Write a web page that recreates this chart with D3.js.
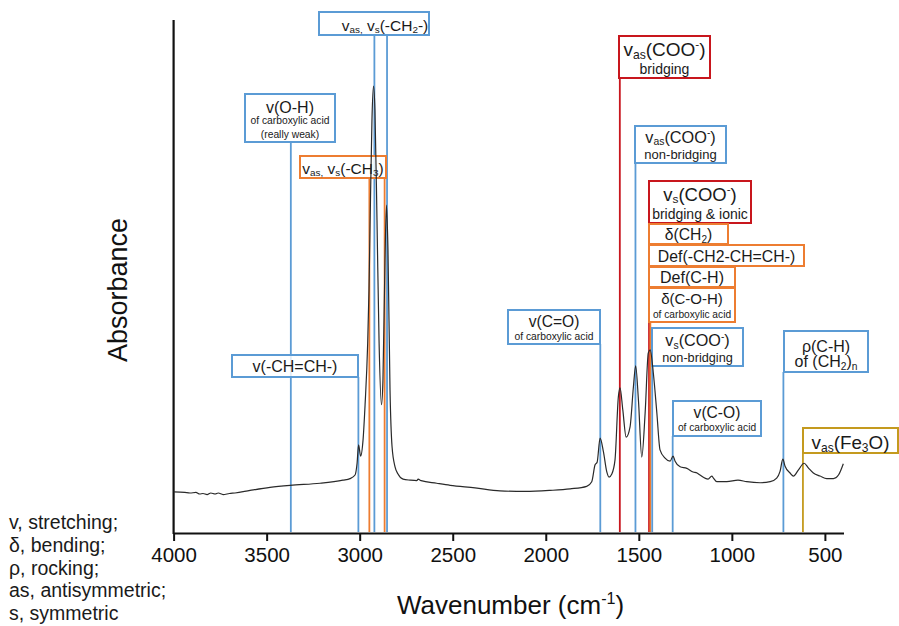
<!DOCTYPE html>
<html lang="en">
<head>
<meta charset="utf-8">
<title>FTIR spectrum with band assignments</title>
<style>
  html,body{margin:0;background:#fff;}
  svg{display:block;font-family:"Liberation Sans",Arial,Helvetica,sans-serif;}
</style>
</head>
<body>
<div id="chart"></div>
<script src="https://cdn.jsdelivr.net/npm/d3@7"></script>
<script>
// spectrum (wavenumber in cm-1, absorbance in arbitrary units)
const wavenumbers = [4000, 3940, 3912, 3880, 3860, 3842, 3820, 3800, 3777, 3760, 3734, 3700, 3670, 3589, 3482, 3374, 3213, 3090, 3052, 3025, 3014, 3006, 2995, 2982, 2971, 2957, 2950, 2942, 2934, 2926, 2918, 2907, 2896, 2883, 2875, 2864, 2856, 2848, 2837, 2826, 2810, 2794, 2767, 2729, 2693, 2686, 2670, 2586, 2514, 2380, 2246, 2111, 1977, 1869, 1780, 1753, 1735, 1724, 1708, 1690, 1672, 1660, 1645, 1628, 1610, 1601, 1586, 1568, 1547, 1529, 1517, 1502, 1484, 1466, 1449, 1439, 1422, 1403, 1386, 1359, 1332, 1316, 1305, 1278, 1242, 1208, 1187, 1171, 1128, 1108, 1099, 1081, 1027, 967, 920, 848, 794, 759, 741, 726, 714, 687, 669, 642, 612, 589, 562, 526, 490, 454, 427, 401];
const absorbance = [0.080, 0.079, 0.078, 0.079, 0.076, 0.077, 0.075, 0.078, 0.076, 0.078, 0.075, 0.077, 0.078, 0.083, 0.089, 0.093, 0.097, 0.103, 0.106, 0.113, 0.136, 0.172, 0.150, 0.181, 0.250, 0.370, 0.474, 0.649, 0.805, 0.871, 0.825, 0.610, 0.376, 0.250, 0.298, 0.532, 0.639, 0.552, 0.279, 0.168, 0.129, 0.115, 0.105, 0.103, 0.102, 0.105, 0.102, 0.097, 0.093, 0.088, 0.082, 0.081, 0.083, 0.086, 0.091, 0.100, 0.133, 0.138, 0.185, 0.158, 0.119, 0.109, 0.115, 0.142, 0.265, 0.283, 0.240, 0.187, 0.207, 0.285, 0.326, 0.259, 0.148, 0.234, 0.351, 0.357, 0.312, 0.234, 0.162, 0.146, 0.140, 0.150, 0.140, 0.129, 0.126, 0.119, 0.117, 0.113, 0.105, 0.111, 0.107, 0.100, 0.100, 0.103, 0.100, 0.098, 0.100, 0.107, 0.120, 0.144, 0.130, 0.117, 0.111, 0.123, 0.136, 0.127, 0.117, 0.111, 0.106, 0.106, 0.113, 0.135];

const xTicks = [4000, 3500, 3000, 2500, 2000, 1500, 1000, 500];

// band assignments: label lines (_{} subscript, ^{} superscript), band positions, colour group
const bandLabels = [
  ["v_{as,} v_{s}(-CH_{2}-)"],
  ["v(O-H)", "of carboxylic acid", "(really weak)"],
  ["v_{as,} v_{s}(-CH_{3})"],
  ["v(-CH=CH-)"],
  ["v(C=O)", "of carboxylic acid"],
  ["v_{as}(COO^{-})", "bridging"],
  ["v_{as}(COO^{-})", "non-bridging"],
  ["v_{s}(COO^{-})", "bridging & ionic"],
  ["δ(CH_{2})"],
  ["Def(-CH2-CH=CH-)"],
  ["Def(C-H)"],
  ["δ(C-O-H)", "of carboxylic acid"],
  ["v_{s}(COO^{-})", "non-bridging"],
  ["v(C-O)", "of carboxylic acid"],
  ["ρ(C-H)", "of (CH_{2})_{n}"],
  ["v_{as}(Fe_{3}O)"]
];
const bandPositions = [[2921, 2853], [3370], [2948, 2866], [3007], [1707], [1602], [1518], [1445], [], [], [], [1438], [1428], [1318], [723], [618]];
const bandGroups = ["blue", "blue", "orange", "blue", "blue", "red", "blue", "red", "orange", "orange", "orange", "orange", "blue", "blue", "blue", "gold"];

const legendLines = ["v, stretching;", "δ, bending;", "ρ, rocking;", "as, antisymmetric;", "s, symmetric"];

// ---- layout (pixels) ----
const W = 899, H = 626;
const margin = {left: 173.6, right: 843.5, top: 20, bottom: 533};
const groupColor = {blue: "#5b9bd5", orange: "#ed7d31", red: "#c8161d", gold: "#c49a1e"};
// label boxes: [x0, y0, x1, y1], font sizes per line, baselines from box top, optional text centre
const boxLayout = [
  {box: [319, 12, 429, 35], size: [15.5], base: [18.5], cx: 385},
  {box: [245, 94, 335, 142], size: [16, 10.3, 10.3], base: [18.5, 30, 43.5]},
  {box: [300, 156, 386, 178], size: [15.5], base: [17.5]},
  {box: [232, 355, 358, 377], size: [16], base: [17]},
  {box: [508, 310, 600, 344], size: [15.6, 10.3], base: [16.8, 30]},
  {box: [619, 36, 710, 78], size: [19, 14], base: [20, 37.5]},
  {box: [635, 126, 726, 163], size: [16.3, 13], base: [16.8, 33]},
  {box: [649, 181, 751, 223], size: [18.5, 14], base: [19.5, 38.3]},
  {box: [649, 224, 728, 244], size: [15.7], base: [16]},
  {box: [649, 245, 804, 266], size: [15.8], base: [17.3]},
  {box: [649, 267, 735, 287], size: [16], base: [16.3]},
  {box: [649, 288, 735, 322], size: [15, 10.2], base: [15.5, 29.5]},
  {box: [652, 328, 743, 366], size: [16.2, 12.7], base: [18, 34]},
  {box: [673, 401, 761, 436], size: [15.6, 10.2], base: [17.3, 30]},
  {box: [784, 331, 868, 372], size: [16, 16], base: [20.5, 36]},
  {box: [803, 428, 898, 453], size: [18.8], base: [20.5]}
];

const svg = d3.select("#chart").append("svg")
    .attr("width", W)
    .attr("height", H)
    .attr("viewBox", [0, 0, W, H]);

const x = d3.scaleLinear().domain([4000, 400]).range([margin.left, margin.right]);
const y = d3.scaleLinear().domain([0, 1]).range([margin.bottom, margin.top]);

// x axis
const xAxis = d3.axisBottom(x)
    .tickValues(xTicks)
    .tickFormat(d3.format("d"))
    .tickSize(8).tickPadding(6).tickSizeOuter(0);
const gx = svg.append("g")
    .attr("transform", `translate(0,${margin.bottom})`)
    .call(xAxis);
gx.select(".domain").attr("stroke", "#111").attr("stroke-width", 2.2);
gx.selectAll(".tick line").attr("stroke", "#111").attr("stroke-width", 2);
gx.selectAll(".tick text")
    .attr("font-size", 20.5)
    .attr("fill", "#111")
    .attr("font-family", "'Liberation Sans', Arial, sans-serif");

// left spine
svg.append("line")
    .attr("x1", margin.left).attr("x2", margin.left)
    .attr("y1", margin.top).attr("y2", margin.bottom + 1)
    .attr("stroke", "#111").attr("stroke-width", 2.2);

// helper for sub/superscript markup
function richText(sel, str, size) {
  const parts = str.split(/(_\{[^}]*\}|\^\{[^}]*\})/).filter(s => s.length);
  let shift = 0;
  parts.forEach(p => {
    let t = p, s = size, target = 0;
    if (p.startsWith("_{")) { t = p.slice(2, -1); s = size * 0.64; target = size * 0.16; }
    else if (p.startsWith("^{")) { t = p.slice(2, -1); s = size * 0.62; target = -size * 0.4; }
    sel.append("tspan")
        .attr("font-size", s)
        .attr("dy", target - shift)
        .text(t);
    shift = target;
  });
}

// vertical band lines (from the bottom of their box down to the axis)
const lineG = svg.append("g");
bandPositions.forEach((pos, i) => {
  const b = boxLayout[i].box;
  pos.forEach(wn => {
    lineG.append("line")
        .attr("x1", x(wn)).attr("x2", x(wn))
        .attr("y1", b[3]).attr("y2", margin.bottom - 1)
        .attr("stroke", groupColor[bandGroups[i]])
        .attr("stroke-width", 1.8);
  });
});

// label boxes
const boxG = svg.append("g");
bandLabels.forEach((lines, i) => {
  const L = boxLayout[i];
  const [x0, y0, x1, y1] = L.box;
  boxG.append("rect")
      .attr("x", x0).attr("y", y0)
      .attr("width", x1 - x0).attr("height", y1 - y0)
      .attr("fill", "#fff").attr("fill-opacity", 0.82)
      .attr("stroke", groupColor[bandGroups[i]])
      .attr("stroke-width", 2);
  const cx = L.cx != null ? L.cx : (x0 + x1) / 2;
  lines.forEach((ln, j) => {
    const t = boxG.append("text")
        .attr("x", cx)
        .attr("y", y0 + L.base[j])
        .attr("text-anchor", "middle")
        .attr("fill", "#1a1a1a")
        .attr("font-size", L.size[j]);
    richText(t, ln, L.size[j]);
  });
});

// spectrum
const spectrum = wavenumbers.map((w, i) => [w, absorbance[i]]);
svg.append("path")
    .datum(spectrum)
    .attr("fill", "none")
    .attr("stroke", "#2a2a2a")
    .attr("stroke-width", 1.2)
    .attr("stroke-linejoin", "round")
    .attr("d", d3.line().x(d => x(d[0])).y(d => y(d[1])).curve(d3.curveMonotoneX));

// axis titles
svg.append("text")
    .attr("transform", "translate(118,290) rotate(-90)")
    .attr("text-anchor", "middle")
    .attr("dominant-baseline", "central")
    .attr("font-size", 27)
    .attr("fill", "#111")
    .text("Absorbance");

const xt = svg.append("text")
    .attr("x", (margin.left + margin.right) / 2 + 2)
    .attr("y", 614)
    .attr("text-anchor", "middle")
    .attr("font-size", 26)
    .attr("fill", "#111");
richText(xt, "Wavenumber (cm^{-1})", 26);

// abbreviations
svg.append("g").selectAll("text")
    .data(legendLines)
    .join("text")
    .attr("x", 9)
    .attr("y", (d, i) => 529 + i * 22.8)
    .attr("font-size", 19.5)
    .attr("fill", "#1a1a1a")
    .text(d => d);
</script>
</body>
</html>
